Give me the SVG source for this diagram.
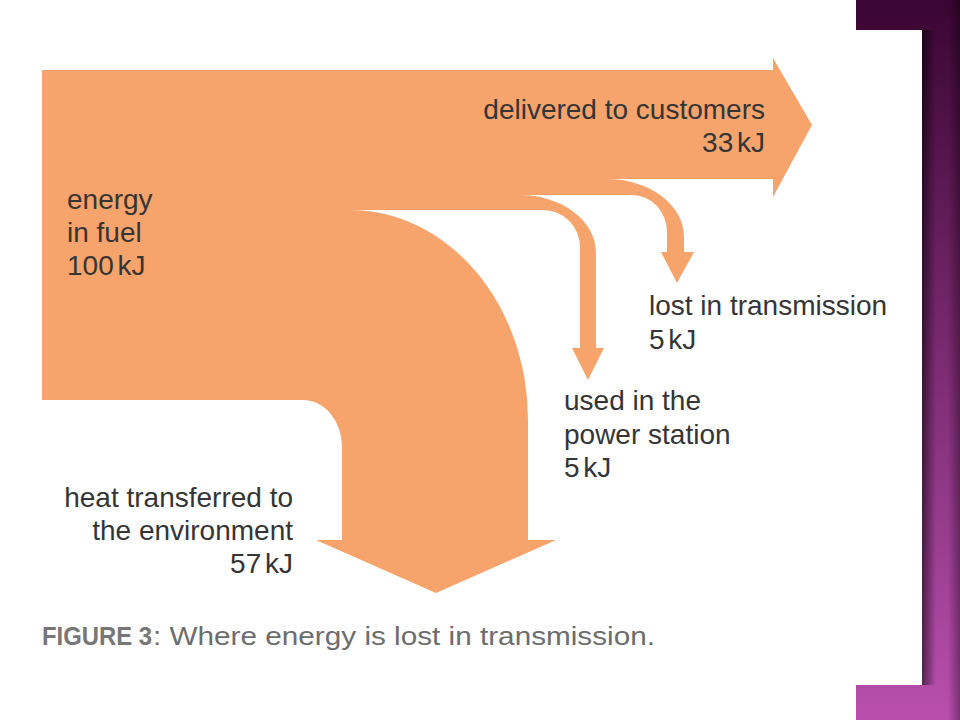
<svg xmlns="http://www.w3.org/2000/svg" width="960" height="720" viewBox="0 0 960 720">
  <defs>
    <linearGradient id="purple" x1="0" y1="0" x2="0" y2="1">
      <stop offset="0" stop-color="#3a0532"/>
      <stop offset="0.45" stop-color="#75276b"/>
      <stop offset="1" stop-color="#b84fae"/>
    </linearGradient>
    <linearGradient id="shadow" x1="0" y1="0" x2="1" y2="0">
      <stop offset="0" stop-color="#000" stop-opacity="0.55"/>
      <stop offset="1" stop-color="#000" stop-opacity="0"/>
    </linearGradient>
    <linearGradient id="shadowR" x1="1" y1="0" x2="0" y2="0">
      <stop offset="0" stop-color="#000" stop-opacity="0.35"/>
      <stop offset="1" stop-color="#000" stop-opacity="0"/>
    </linearGradient>
    <style>
      .lbl { font-family: "Liberation Sans", Arial, sans-serif; font-size: 28px; fill: #353535; }
      .end { text-anchor: end; }
      .cap { font-family: "Liberation Sans", Arial, sans-serif; font-size: 26px; fill: #6d6d6d; }
      .flow { fill: #f6a36c; }
    </style>
  </defs>

  <rect x="0" y="0" width="960" height="720" fill="#ffffff"/>

  <g id="frame">
    <rect x="856" y="0" width="104" height="720" fill="url(#purple)"/>
    <rect x="922" y="30" width="14" height="655" fill="url(#shadow)"/>
    <rect x="948" y="0" width="12" height="720" fill="url(#shadowR)"/>
    <rect x="856" y="30" width="66" height="655" fill="#ffffff"/>
  </g>

  <g id="connectors">
    <path id="energy-flow" class="flow" d="M42,70 H773 V58 L812,125 L773,197 V179 H607
      A77,58 0 0 1 684,237 V252 H694 L677,283 L661,252 H667 V232
      A35,37 0 0 0 632,195 H520
      A76,58 0 0 1 596,253 V348 H604 L588,380 L572,348 H580 V247
      A37,37 0 0 0 543,210 H350
      A178,210 0 0 1 528,420 V540 H556 L436,593 L316,540 H342 V447
      A39,47 0 0 0 303,400 H42 Z"/>
  </g>

  <g id="node-fuel">
    <text class="lbl" x="67" y="209">energy</text>
    <text class="lbl" x="67" y="242">in fuel</text>
    <text class="lbl" x="67" y="275" word-spacing="-4">100 kJ</text>
  </g>

  <g id="node-customers">
    <text class="lbl end" x="765" y="119">delivered to customers</text>
    <text class="lbl end" x="765" y="152" word-spacing="-4">33 kJ</text>
  </g>

  <g id="node-transmission">
    <text class="lbl" x="649" y="315">lost in transmission</text>
    <text class="lbl" x="649" y="349" word-spacing="-4">5 kJ</text>
  </g>

  <g id="node-station">
    <text class="lbl" x="564" y="410">used in the</text>
    <text class="lbl" x="564" y="444">power station</text>
    <text class="lbl" x="564" y="477" word-spacing="-4">5 kJ</text>
  </g>

  <g id="node-environment">
    <text class="lbl end" x="293" y="507">heat transferred to</text>
    <text class="lbl end" x="293" y="540">the environment</text>
    <text class="lbl end" x="293" y="573" word-spacing="-4">57 kJ</text>
  </g>

  <g id="caption">
    <text class="cap" y="645"><tspan x="42" font-weight="bold" fill="#777777" textLength="110" lengthAdjust="spacingAndGlyphs">FIGURE 3</tspan><tspan x="153" textLength="502" lengthAdjust="spacingAndGlyphs">: Where energy is lost in transmission.</tspan></text>
  </g>
</svg>
